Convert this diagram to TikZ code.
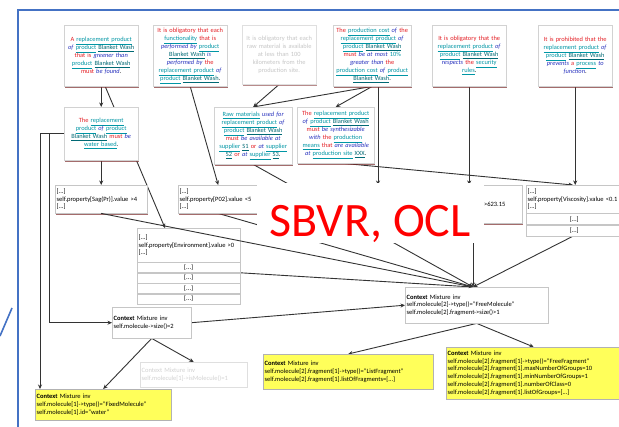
\documentclass[tikz,border=0pt]{standalone}
\usepackage{fontspec}
\setmainfont{Carlito}
\usetikzlibrary{arrows.meta,calc,shadows,backgrounds}

\definecolor{sbred}{RGB}{228,30,36}
\definecolor{sbblue}{RGB}{40,50,190}
\definecolor{sbteal}{RGB}{0,150,165}
\definecolor{frameblue}{RGB}{68,114,196}
\definecolor{ctxyellow}{RGB}{255,255,90}
\definecolor{shadowred}{RGB}{125,45,45}

\newcommand{\sbvrfont}{\fontsize{6.4}{8}\selectfont}
\newcommand{\codefont}{\fontsize{6.5}{7.8}\selectfont}
\newcommand{\sbkw}[1]{\textcolor{sbred}{#1}}
\newcommand{\sbvb}[1]{\textcolor{sbblue}{\textit{#1}}}
\newcommand{\sbtm}[1]{\textcolor{sbteal}{\underline{#1}}}
\newcommand{\sbnm}[1]{\textcolor{sbteal!70!black}{\underline{#1}}}

\tikzset{
  redshadow/.style={drop shadow={shadow xshift=0.6pt,shadow yshift=-1.4pt,fill=shadowred,opacity=0.7}},
  rule/.style={draw=gray!35,fill=white,anchor=north west,align=center,font=\sbvrfont,inner sep=1pt,redshadow},
  code/.style={draw=gray!45,fill=white,anchor=north west,align=left,font=\codefont,inner sep=1.5pt},
  cell/.style={draw=gray!45,fill=white,anchor=north west,font=\codefont,inner sep=0pt},
  ctx/.style={draw=gray!60,fill=ctxyellow,anchor=north west,align=left,font=\codefont,inner sep=1.5pt,
    drop shadow={shadow xshift=1.2pt,shadow yshift=-1.2pt,fill=gray,opacity=0.6}},
  conn/.style={draw=black!80,line width=0.9pt,-{Stealth[length=4.5pt,width=4pt]}},
  frame/.style={draw=frameblue,line width=1.6pt},
  ocllabel/.style={fill=white,text=red,font=\fontsize{48}{50}\selectfont,inner sep=0pt,
    text height=54pt,text depth=6pt,minimum width=227pt,anchor=base}
}

\begin{document}
\begin{tikzpicture}[x=1pt,y=-1pt]
\useasboundingbox (0,0) rectangle (619,427);
% SBVR rules, top row
\node[rule,minimum width=74pt,minimum height=61pt,text width=70pt] (A) at (64,25) {
  \sbkw{A} \sbtm{replacement product}\\ \sbvb{of} \sbtm{product} \sbnm{Blanket Wash}\\
  \sbkw{that is} \sbvb{greener than}\\ \sbtm{product} \sbnm{Blanket Wash}\\ \sbkw{must} \sbvb{be found}.};
\node[rule,minimum width=74pt,minimum height=61pt,text width=70pt] (B) at (153,25) {
  \sbkw{It is obligatory that each}\\ \sbtm{functionality} \sbkw{that is}\\ \sbvb{performed by} \sbtm{product}\\
  \sbnm{Blanket Wash} \sbvb{is}\\ \sbvb{performed by} \sbkw{the}\\ \sbtm{replacement product} \sbvb{of}\\
  \sbtm{product} \sbnm{Blanket Wash}.};
\node[rule,draw=gray!25,text=gray!45,minimum width=74pt,minimum height=59pt,text width=70pt,
  drop shadow={shadow xshift=0.6pt,shadow yshift=-1.4pt,fill=shadowred!40,opacity=0.5}] (C) at (242,25) {
  It is obligatory that each\\ raw material is available\\ at less than 100\\ kilometers from the\\ production site.};
\node[rule,minimum width=78pt,minimum height=61pt,text width=75pt] (D) at (333,25) {
  \sbkw{The} \sbtm{production cost} \sbvb{of} \sbkw{the}\\ \sbtm{replacement product} \sbvb{of}\\
  \sbtm{product} \sbnm{Blanket Wash}\\ \sbkw{must} \sbvb{be at most} \textcolor{sbteal}{10\%}\\
  \sbvb{greater than} \sbkw{the}\\ \sbtm{production cost} \sbvb{of} \sbtm{product}\\ \sbnm{Blanket Wash}.};
\node[rule,minimum width=74pt,minimum height=61pt,text width=70pt] (E) at (432,25) {
  \sbkw{It is obligatory that the}\\ \sbtm{replacement product} \sbvb{of}\\ \sbtm{product} \sbnm{Blanket Wash}\\
  \sbvb{respects} \sbkw{the} \sbtm{security}\\ \sbtm{rules}.};
\node[rule,minimum width=74pt,minimum height=61pt,text width=70pt] (F) at (538,25) {
  \sbkw{It is prohibited that the}\\ \sbtm{replacement product} \sbvb{of}\\ \sbtm{product} \sbnm{Blanket Wash}\\
  \sbvb{prevents} \sbkw{a} \sbtm{process} \sbvb{to}\\ \sbvb{function}.};
% SBVR rules, second row
\node[rule,minimum width=74pt,minimum height=53pt,text width=70pt] (G) at (64,107) {
  \sbkw{The} \sbtm{replacement}\\ \sbtm{product} \sbvb{of} \sbtm{product}\\ \sbnm{Blanket Wash} \sbkw{must} \sbvb{be}\\
  \sbtm{water based}.};
\node[rule,minimum width=78pt,minimum height=57pt,text width=75pt] (H) at (214,107) {
  \sbtm{Raw materials} \sbvb{used for}\\ \sbtm{replacement product} \sbvb{of}\\ \sbtm{product} \sbnm{Blanket Wash}\\
  \sbkw{must} \sbvb{be available at}\\ \sbtm{supplier} \sbnm{S1} \sbkw{or} \sbvb{at} \sbtm{supplier}\\
  \sbnm{S2} \sbkw{or} \sbvb{at} \sbtm{supplier} \sbnm{S3}.};
\node[rule,minimum width=77pt,minimum height=56pt,text width=74pt] (I) at (297,107) {
  \sbkw{The} \sbtm{replacement product}\\ \sbvb{of} \sbtm{product} \sbnm{Blanket Wash}\\
  \sbkw{must} \sbvb{be synthesizable}\\ \sbvb{with} \sbkw{the} \sbtm{production}\\
  \sbtm{means} \sbkw{that} \sbvb{are available}\\ \sbvb{at} \sbtm{production site} \sbnm{XXX}.};
% OCL fragments
\node[code,redshadow,minimum width=92pt,minimum height=28pt,text width=89pt] (J) at (55,185)
  {[...]\\ self.property[Sag(Pr)].value >4\\ {[...]}};
\node[code,redshadow,minimum width=80pt,minimum height=28pt,text width=77pt] (K) at (178,185)
  {[...]\\ self.property[P02].value <5\\ {[...]}};
\node[code,redshadow,minimum width=122pt,minimum height=38pt,text width=119pt] (L) at (400,185)
  {[...]\\ self.property[FlashPoint].value >623.15\\ {[...]}};
\node[code,minimum width=96pt,minimum height=28pt,text width=93pt] (M) at (526,185)
  {[...]\\ self.property[Viscosity].value <0.1\\ {[...]}};
\node[cell,minimum width=96pt,minimum height=11pt] (M1) at (M.south west) {[...]};
\node[cell,minimum width=96pt,minimum height=11pt] (M2) at (M1.south west) {[...]};
\node[code,minimum width=103pt,minimum height=34pt,text width=100pt] (N) at (137,228)
  {[...]\\ self.property[Environment].value >0\\ {[...]}};
\node[cell,minimum width=103pt,minimum height=10pt] (N1) at (N.south west) {[...]};
\node[cell,minimum width=103pt,minimum height=10pt] (N2) at (N1.south west) {[...]};
\node[cell,minimum width=103pt,minimum height=10pt] (N3) at (N2.south west) {[...]};
\node[cell,minimum width=103pt,minimum height=10pt] (N4) at (N3.south west) {[...]};
% contexts
\node[code,minimum width=79pt,minimum height=31pt,text width=76pt] (P) at (112,307)
  {\textbf{Context} Mixture inv\\ self.molecule->size()=2};
\node[code,minimum width=143pt,minimum height=36pt,text width=140pt] (Q) at (405,287)
  {\textbf{Context} Mixture inv\\ self.molecule[2]->type()="FreeMolecule"\\ self.molecule[2].fragment->size()>1};
\node[code,draw=gray!25,text=gray!35,minimum width=107pt,minimum height=25pt,text width=104pt] (R) at (140,362)
  {Context Mixture inv\\ self.molecule[1]->isMolecule()=1};
\node[ctx,minimum width=136pt,minimum height=31pt,text width=133pt] (S) at (35,389)
  {\textbf{Context} Mixture inv\\ self.molecule[1]->type()="FixedMolecule"\\ self.molecule[1].id="water"};
\node[ctx,minimum width=170pt,minimum height=35pt,text width=167pt] (T) at (263,354)
  {\textbf{Context} Mixture inv\\ self.molecule[2].fragment[1]->type()="ListFragment"\\
   self.molecule[2].fragment[1].listOfFragments=[...]};
\node[ctx,minimum width=175pt,minimum height=52pt,text width=172pt] (U) at (446,347)
  {\textbf{Context} Mixture inv\\ self.molecule[2].fragment[1]->type()="FreeFragment"\\
   self.molecule[2].fragment[1].maxNumberOfGroups=10\\ self.molecule[2].fragment[1].minNumberOfGroups=1\\
   self.molecule[2].fragment[1].numberOfClass=0\\ self.molecule[2].fragment[1].listOfGroups=[...]};
\coordinate (qin) at ($(Q.north west)+(68,0)$);
\coordinate (mtop) at ($(M.north west)+(47,0)$);
\coordinate (dd) at ($(D.south west)+(45,0)$);
% links behind the boxes
\begin{scope}[on background layer]
\draw[frame] (619,10) -- (18,10) -- (18,427);
\draw[frame] (12,308) -- (0,336);
\draw[conn] (A.south) -- (G.north);
\draw[conn] ($(A.south)+(4,0)$) -- ($(N.north west)+(28,0)$);
\draw[conn] (G.south) -- (G.south |- J.north);
\draw[conn] (G.west) -| ($(S.north west)+(5,0)$);
\draw[conn] (G.west) -| ($(P.west)+(-63,0)$) -- (P.west);
\draw[conn] (B.south) -- (K.north);
\draw[conn] (C.south) -- (H.north);
\draw[conn] (D.south) -- (H.north);
\draw[conn] (D.south) -- (I.north);
\draw[conn] (dd) -- (dd |- L.north);
\draw[conn] (E.south) -- (E.south |- L.north);
\draw[conn] (F.south) -- (F.south |- M.north);
\draw[conn] ($(I.south)+(8,0)$) -- (mtop);
\draw[conn] (H.south) -- (qin);
\draw[conn] (K.south) -- (qin);
\draw[conn] (N1.south east) -- (qin);
\draw[conn] (qin |- L.south) -- (qin);
\draw[conn] ($(M2.south west)+(47,0)$) -- (qin);
\draw[conn] (P.east) -- (Q.west);
\draw[conn] (P.south) -- (R.north);
\draw[conn] (P.south) -- (S.north);
\draw[conn] (Q.south) -- (T.north);
\draw[conn] (Q.south) -- (U.north);
\end{scope}
\draw[conn] (J.south) -- (qin);
% label on top
\node[ocllabel] (ocl) at (370,237) {SBVR, OCL};
\end{tikzpicture}
\end{document}
